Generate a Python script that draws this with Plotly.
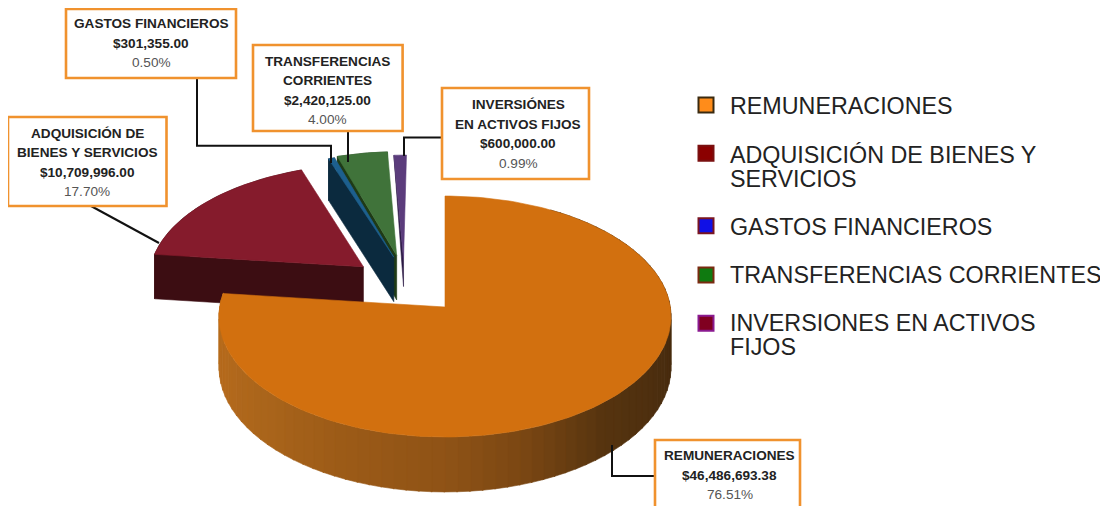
import math
import plotly.graph_objects as go

# ---------- data ----------
categories = ["REMUNERACIONES", "ADQUISICIÓN DE BIENES Y SERVICIOS", "GASTOS FINANCIEROS",
              "TRANSFERENCIAS CORRIENTES", "INVERSIONES EN ACTIVOS FIJOS"]
values = [46486693.38, 10709996.00, 301355.00, 2420125.00, 600000.00]
amount_labels = ["$46,486,693.38", "$10,709,996.00", "$301,355.00", "$2,420,125.00", "$600,000.00"]
percent_labels = ["76.51%", "17.70%", "0.50%", "4.00%", "0.99%"]
box_titles = [["REMUNERACIONES"], ["ADQUISICIÓN DE", "BIENES Y SERVICIOS"], ["GASTOS FINANCIEROS"],
              ["TRANSFERENCIAS", "CORRIENTES"], ["INVERSIÓNES", "EN ACTIVOS FIJOS"]]
legend_lines = [["REMUNERACIONES"], ["ADQUISICIÓN DE BIENES Y", "SERVICIOS"], ["GASTOS FINANCIEROS"],
                ["TRANSFERENCIAS CORRIENTES"], ["INVERSIONES EN ACTIVOS", "FIJOS"]]

# ---------- style ----------
top_colors = ["#d2700f", "#851b2c", "#1d5f8e", "#40733a", "#5b3c7c"]
side_colors = ["#8f5316", "#3c0d12", "#0b2a3e", "#1f3a16", "#2b1a44"]
swatch_fill = ["#ff8c1a", "#8b0000", "#1010e6", "#0f7a10", "#800020"]
swatch_edge = ["#3a2a10", "#7a1010", "#7a1520", "#7a2a10", "#8a1a90"]
explode = [(0, 0), (-0.372, 0.345), (-0.235, 0.43), (-0.222, 0.445), (-0.19, 0.41)]
radius = [1, 0.97, 1, 1, 1]
depths = [50.6, 46, 46, 46, 28]
rim_depth_share = [1, 1, 1, 1, 0]   # how much of the wall depth shows at the far rim
band_stops = [(60, "#3f260c"), (110, "#4a2d0f"), (139, "#56340f"), (162, "#7b4713"), (180, "#8f5316"),
              (203, "#9b5a17"), (227, "#a9641b"), (254, "#b56a1c"), (280, "#b86c1d")]
CX, CY, C, A, B = 445, 307, 225.3, 119.75, 0.079
ORANGE = "#f0922e"
# [x0, y0, x1, y1, text centre x, text centre y]
boxes = [(655, 440, 800, 512, 729.6, 475), (8, 117, 166.5, 206, 87, 162.7), (66, 9, 236, 78, 151, 43.3),
         (253, 45, 402.6, 131, 327.6, 90.5), (442, 88, 589, 179, 518, 134)]
leaders = [[(654.5, 476), (612, 476), (612, 445)], [(91, 206), (159, 243)],
           [(197, 78), (197, 145.7), (331, 145.7), (331, 163)], [(348, 131), (348, 162)],
           [(442, 137.5), (404, 137.5), (404, 156)]]
legend_y = [[105.7], [154.5, 178.5], [226.7], [275], [322.7, 346.7]]
swatch_y = [105, 153.3, 225.7, 275, 323.3]


def project(X, Y, z=0.0):
    w = 1 / (1 + B * Y)
    return CX + C * X * w, CY - A * Y * w + z * w


def rim(theta, ex, ey, z=0.0, r=1.0):
    t = math.radians(theta)
    return project(ex + r * math.sin(t), ey + r * math.cos(t), z)


def lerp_color(theta):
    if theta <= band_stops[0][0]:
        return band_stops[0][1]
    for (t0, c0), (t1, c1) in zip(band_stops, band_stops[1:]):
        if theta <= t1:
            f = (theta - t0) / (t1 - t0)
            a = [int(c0[i:i + 2], 16) for i in (1, 3, 5)]
            b = [int(c1[i:i + 2], 16) for i in (1, 3, 5)]
            return "#%02x%02x%02x" % tuple(round(p + (q - p) * f) for p, q in zip(a, b))
    return band_stops[-1][1]


fig = go.Figure()


def poly(points, color, name):
    fig.add_trace(go.Scatter(x=[p[0] for p in points] + [points[0][0]],
                             y=[p[1] for p in points] + [points[0][1]],
                             mode="lines", fill="toself", fillcolor=color,
                             line=dict(color=color, width=0.6), name=name,
                             hoverinfo="skip", showlegend=False))


total = sum(values)
spans, start = [], 0.0
for v in values:
    spans.append((start, start + 360 * v / total))
    start += 360 * v / total


def arc(s, e, ex, ey, z=0.0, r=1.0):
    n = max(2, int((e - s) / 1.5) + 1)
    return [rim(s + (e - s) * k / n, ex, ey, z, r) for k in range(n + 1)]


# slices behind the big one, farthest first
for i in (4, 3, 2, 1):
    s, e = spans[i]
    ex, ey = explode[i]
    d, r = depths[i], radius[i]
    rd = d * rim_depth_share[i]
    apex, apex_low = project(ex, ey), project(ex, ey, d)
    # outer wall and the visible cut wall
    if rd:
        poly(arc(s, e, ex, ey, 0, r) + arc(s, e, ex, ey, rd, r)[::-1], side_colors[i], categories[i])
    poly([rim(s, ex, ey, 0, r), apex, apex_low, rim(s, ex, ey, rd, r)], side_colors[i], categories[i])
    poly([apex] + arc(s, e, ex, ey, 0, r), top_colors[i], categories[i])

# big slice: shaded wall in strips, then its top
s, e = spans[0]
step = 3.0
th = s + 30
while th < e:
    nx = min(th + step, e)
    poly([rim(th, 0, 0), rim(nx + 0.3, 0, 0), rim(nx + 0.3, 0, 0, depths[0]), rim(th, 0, 0, depths[0])],
         lerp_color((th + nx) / 2), categories[0])
    th = nx
poly([project(0, 0)] + arc(s, e, 0, 0), top_colors[0], categories[0])

# legend keys
for i, name in enumerate(categories):
    fig.add_trace(go.Scatter(x=[706], y=[swatch_y[i]], mode="markers", name=name, showlegend=False,
                             hoverinfo="skip",
                             marker=dict(symbol="square", size=15, color=swatch_fill[i],
                                         line=dict(color=swatch_edge[i], width=2))))

shapes, annotations = [], []
for i in range(5):
    x0, y0, x1, y1, tx, ty = boxes[i]
    path = leaders[i]
    shapes.append(dict(type="path", layer="above",
                       path="M" + " L".join(f"{x},{y}" for x, y in path),
                       line=dict(color="#111111", width=2)))
    shapes.append(dict(type="rect", layer="above", x0=x0, y0=y0, x1=x1, y1=y1, fillcolor="white",
                       line=dict(color=ORANGE, width=2.6)))
    lines = [(t, True) for t in box_titles[i]] + [(amount_labels[i], True), (percent_labels[i], False)]
    pitch = 19.5
    for k, (t, bold) in enumerate(lines):
        annotations.append(dict(x=tx, y=ty + (k - (len(lines) - 1) / 2) * pitch, text=f"<b>{t}</b>" if bold else t,
                                showarrow=False, xanchor="center", yanchor="middle",
                                font=dict(family="Liberation Sans", size=13.6,
                                          color="#222222" if bold else "#555555")))
    for t, y in zip(legend_lines[i], legend_y[i]):
        annotations.append(dict(x=728, y=y, text=t, showarrow=False, xanchor="left", yanchor="middle",
                                font=dict(family="Liberation Sans", size=23.3, color="#222222")))

# the page keeps an 8 px body margin, so the axes start at 8 to stay on the window's pixel grid
fig.update_layout(width=1100, height=498, margin=dict(l=0, r=0, t=0, b=0), showlegend=False,
                  paper_bgcolor="white", plot_bgcolor="white", shapes=shapes, annotations=annotations,
                  xaxis=dict(range=[8, 1108], visible=False, fixedrange=True),
                  yaxis=dict(range=[506, 8], visible=False, fixedrange=True))
fig.write_html("out.html")
